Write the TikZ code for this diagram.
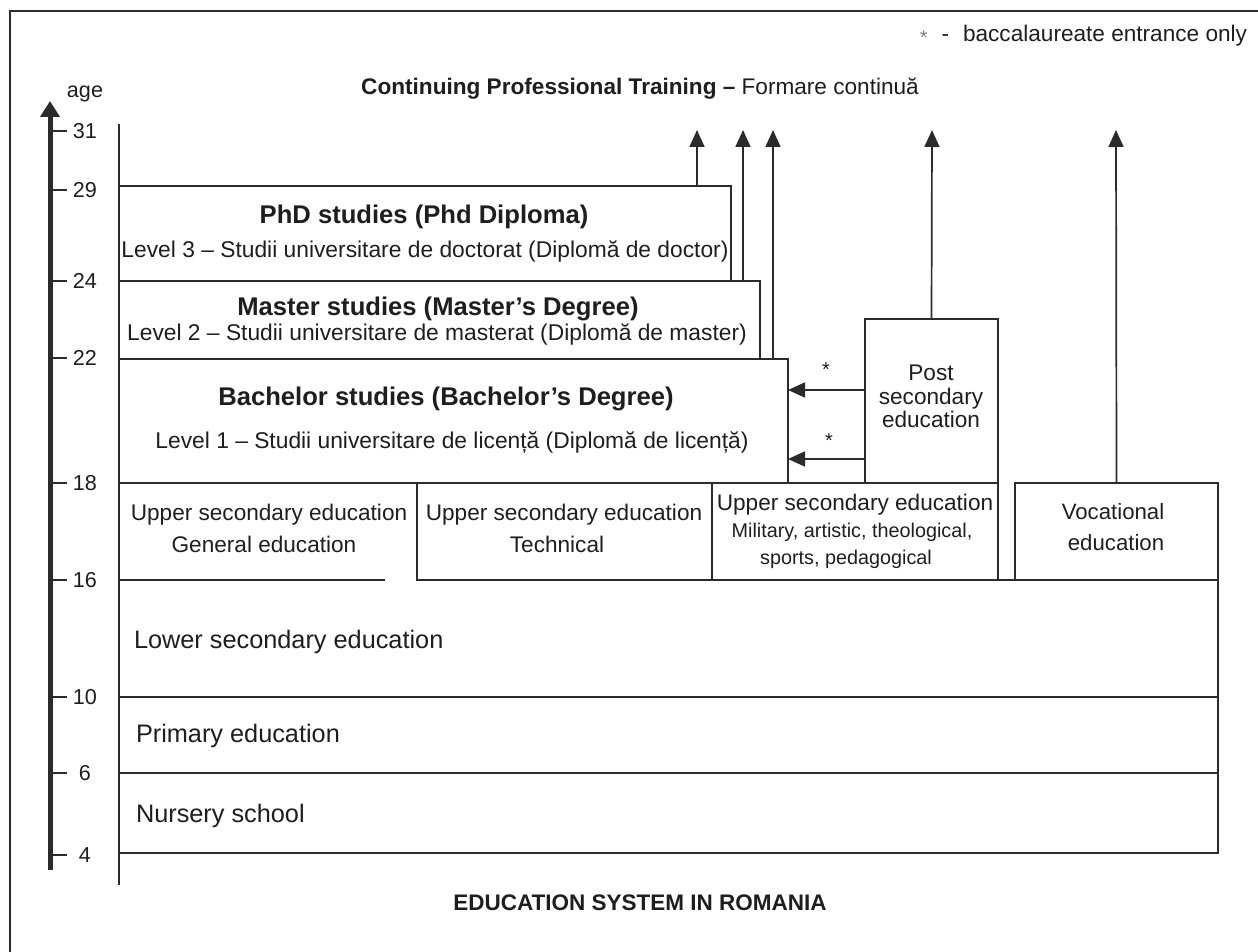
\documentclass[tikz,border=0pt]{standalone}
\usepackage{fontspec}
\setmainfont{Liberation Sans}
\usetikzlibrary{arrows.meta}
\definecolor{ink}{HTML}{1E1E1E}
\definecolor{rule}{HTML}{2B2B2B}
\newcommand\fsz[1]{\fontsize{#1}{#1}\selectfont}

\begin{document}
\begin{tikzpicture}[x=1pt,y=-1pt,
  frame/.style={draw=rule,line width=2.6pt},
  edge/.style={draw=rule,line width=1.9pt},
  box/.style={edge,rectangle,inner sep=0pt,outer sep=0pt,anchor=north west},
  area/.style={rectangle,inner sep=0pt,outer sep=0pt,anchor=north west},
  txt/.style={inner sep=0pt,outer sep=0pt,anchor=base,text=ink},
  ltxt/.style={txt,anchor=base west},
  num/.style={inner sep=0pt,anchor=center,text=ink,font=\fsz{21.6}},
  tick/.style={draw=rule,line width=2.2pt},
  axis/.style={draw=rule,line width=5pt,-{Triangle[length=16pt,width=19pt]}},
  up/.style={draw=rule,line width=1.7pt,-{Triangle[length=17pt,width=15pt]}}]

\useasboundingbox (0,0) rectangle (1258,952);

% outer frame (open to the right and bottom)
\draw[frame] (10,952) -- (10,11) -- (1258,11);

% legend and headings
\node[txt,anchor=base east] (legend) at (1247,42)
  {\fsz{22.6}{\color{gray}\fsz{20}\raisebox{-3pt}{*}}\hspace{14pt}-\hspace{14pt}baccalaureate entrance only};
\node[txt] (cpt) at (640,95)
  {\fsz{22.6}\textbf{Continuing Professional Training –} Formare continuă};
\node[txt] (caption) at (640,910) {\fsz{22.5}\bfseries EDUCATION SYSTEM IN ROMANIA};

% age axis
\node[txt] (agelbl) at (85,98) {\fsz{21.6}age};
\draw[axis] (50,870) -- (50,101);
\foreach \a/\y in {31/131,29/190,24/281,22/358,18/483,16/580,10/697,6/773,4/855}{
  \draw[tick] (50,\y) -- (67,\y);
  \node[num] (age\a) at (85,\y) {\a};
}

% left rule of the chart
\draw[edge] (119,124) -- (119,885);

% university levels
\node[box,minimum width=612pt,minimum height=95pt] (phd) at (119,186) {};
\node[box,minimum width=641pt,minimum height=78pt] (master) at (119,281) {};
\node[box,minimum width=669pt,minimum height=124pt] (bach) at (119,359) {};
\node[box,minimum width=133pt,minimum height=164pt] (post) at (865,319) {};

\node[txt] (phdA) at (424,223) {\fsz{25.6}\bfseries PhD studies (Phd Diploma)};
\node[txt] (phdB) at (425,258) {\fsz{22.8}Level 3 – Studii universitare de doctorat (Diplomă de doctor)};
\node[txt] (masA) at (438,315) {\fsz{25.6}\bfseries Master studies (Master’s Degree)};
\node[txt] (masB) at (437,340) {\fsz{22.8}Level 2 – Studii universitare de masterat (Diplomă de master)};
\node[txt] (bacA) at (446,405) {\fsz{25.6}\bfseries Bachelor studies (Bachelor’s Degree)};
\node[txt] (bacB) at (452,448) {\fsz{22.8}Level 1 – Studii universitare de licență (Diplomă de licență)};

\node[txt] (postA) at (931,380) {\fsz{22.6}Post};
\node[txt] (postB) at (931,404) {\fsz{22.6}secondary};
\node[txt] (postC) at (931,427) {\fsz{22.6}education};

% upper secondary row
\node[area,minimum width=298pt,minimum height=97pt] (gen) at (119,483) {};
\node[box,minimum width=295pt,minimum height=97pt] (tech) at (417,483) {};
\node[box,minimum width=286pt,minimum height=97pt] (mil) at (712,483) {};
\node[box,minimum width=203pt,minimum height=97pt] (voc) at (1015,483) {};
\draw[edge] (gen.north west) -- (gen.north east);

\node[txt] (genA) at (269,520) {\fsz{22.6}Upper secondary education};
\node[txt] (genB) at (264,552) {\fsz{22.6}General education};
\node[txt] (techA) at (564,520) {\fsz{22.6}Upper secondary education};
\node[txt] (techB) at (557,552) {\fsz{22.6}Technical};
\node[txt] (milA) at (855,510) {\fsz{22.6}Upper secondary education};
\node[txt] (milB) at (852,537) {\fsz{19.8}Military, artistic, theological,};
\node[txt] (milC) at (846,564) {\fsz{19.8}sports, pedagogical};
\node[txt] (vocA) at (1113,519) {\fsz{22.2}Vocational};
\node[txt] (vocB) at (1116,550) {\fsz{22.2}education};

% compulsory and pre-school levels
\node[area,minimum width=1099pt,minimum height=117pt] (lower) at (119,580) {};
\draw[edge] (lower.north west) -- ++(266,0);
\draw[edge] (tech.south west) -- (lower.north east) -- (lower.south east);
\node[box,minimum width=1099pt,minimum height=76pt] (primary) at (119,697) {};
\node[box,minimum width=1099pt,minimum height=80pt] (nursery) at (119,773) {};

\node[ltxt] (lowerT) at (134,648) {\fsz{25.3}Lower secondary education};
\node[ltxt] (primaryT) at (136,742) {\fsz{25.3}Primary education};
\node[ltxt] (nurseryT) at (136,822) {\fsz{25.3}Nursery school};

% routes into continuing training
\coordinate (c1) at (697,130);
\coordinate (c2) at (743,130);
\coordinate (c3) at (773,130);
\coordinate (c4) at (932,130);
\coordinate (c5) at (1116,130);
\draw[up] (phd.north -| c1) -- (c1);
\draw[up] (master.north -| c2) -- (c2);
\draw[up] (bach.north -| c3) -- (c3);
\draw[up] (post.north) -- (c4);
\draw[up] (voc.north) -- (c5);

% baccalaureate entrance into bachelor studies
\coordinate (b1) at (826,390);
\coordinate (b2) at (826,459);
\draw[up] (post.west |- b1) -- (bach.east |- b1);
\draw[up] (post.west |- b2) -- (bach.east |- b2);
\node[txt] (star1) at (826,376) {\fsz{20}*};
\node[txt] (star2) at (829,447) {\fsz{20}*};
\end{tikzpicture}
\end{document}
